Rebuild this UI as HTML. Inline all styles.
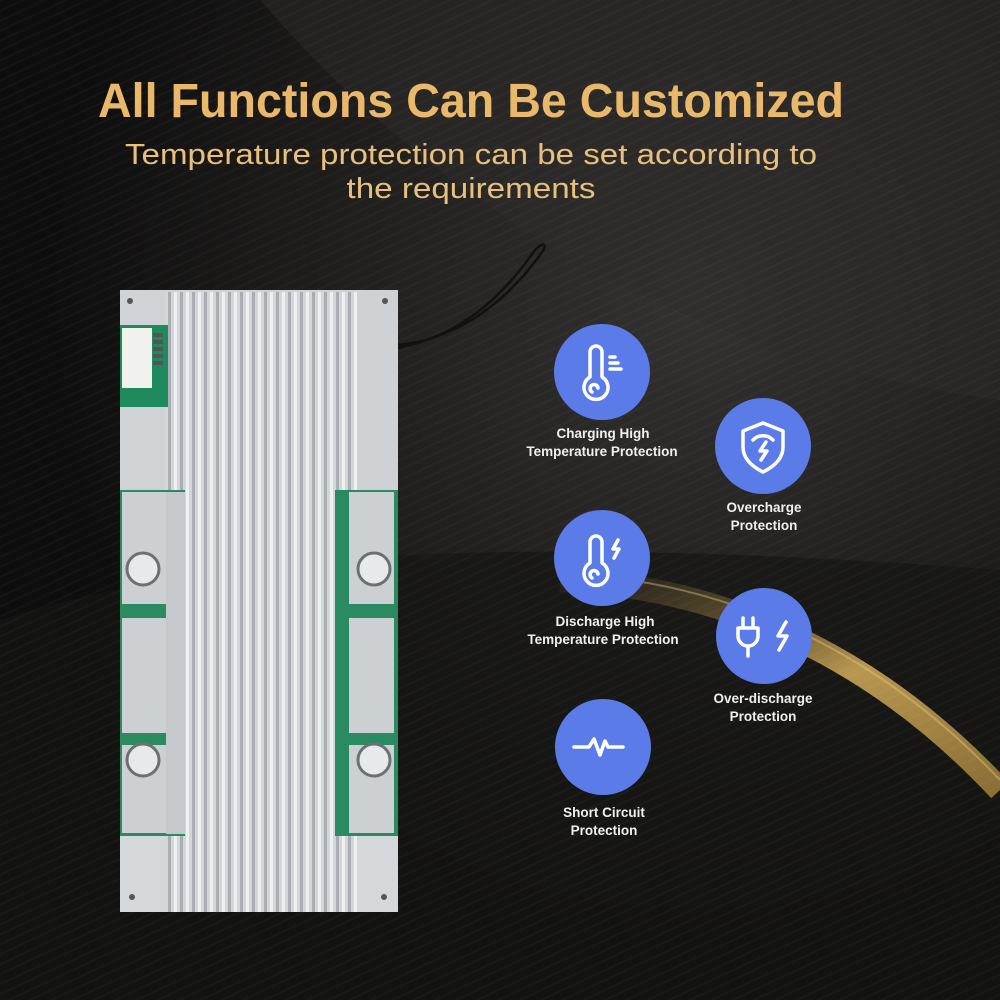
<!DOCTYPE html>
<html><head><meta charset="utf-8"><style>
html,body{margin:0;padding:0;background:#121110;}
svg{display:block}
</style></head><body>
<svg width="1000" height="1000" viewBox="0 0 1000 1000" xmlns="http://www.w3.org/2000/svg">
<defs>
<radialGradient id="g1" cx="0.7" cy="0.3" r="0.65">
<stop offset="0" stop-color="#343230"/><stop offset="0.6" stop-color="#1e1d1c"/><stop offset="1" stop-color="#0f0e0e"/>
</radialGradient>
<linearGradient id="gold" x1="0" y1="0" x2="1" y2="1">
<stop offset="0" stop-color="#3a3020" stop-opacity="0.3"/><stop offset="0.55" stop-color="#b8974f"/><stop offset="1" stop-color="#8a6e34"/>
</linearGradient>
<pattern id="fins" width="12" height="10" patternUnits="userSpaceOnUse">
<rect width="12" height="10" fill="#d4d7da"/><rect x="0" width="3" height="10" fill="#a9adb1"/><rect x="6" width="3" height="10" fill="#eef0f2"/>
</pattern>
<pattern id="lines" width="9" height="9" patternUnits="userSpaceOnUse" patternTransform="rotate(-25)">
<rect width="9" height="2" fill="#ffffff" opacity="0.025"/>
</pattern>
</defs>
<rect width="1000" height="1000" fill="url(#g1)"/>
<path d="M260 0 C450 220 700 360 1000 400 L1000 0 Z" fill="#2e2c2a" opacity="0.5"/>
<path d="M0 620 C250 540 600 540 1000 570 L1000 1000 L0 1000 Z" fill="#161514" opacity="0.7"/>
<path d="M560 580 C700 585 860 640 1000 790" stroke="url(#gold)" stroke-width="24" fill="none"/>
<path d="M560 574 C700 578 860 632 1000 780" stroke="#e8cf8a" stroke-width="2" fill="none" opacity="0.4"/>
<rect width="1000" height="1000" fill="url(#lines)"/>

<text x="471" y="117" text-anchor="middle" font-family="Liberation Sans, sans-serif" font-weight="bold" font-size="48" fill="#e9b86b" textLength="746" lengthAdjust="spacingAndGlyphs">All Functions Can Be Customized</text>
<text x="471" y="164" text-anchor="middle" font-family="Liberation Sans, sans-serif" font-size="29" fill="#e8c07e" textLength="692" lengthAdjust="spacingAndGlyphs">Temperature protection can be set according to</text>
<text x="471" y="198" text-anchor="middle" font-family="Liberation Sans, sans-serif" font-size="29" fill="#e8c07e" textLength="249" lengthAdjust="spacingAndGlyphs">the requirements</text>

<path d="M398 345 C450 340 500 310 540 255 C548 245 545 240 535 250 C500 300 460 335 398 348" stroke="#111" stroke-width="2.5" fill="none"/>

<rect x="120" y="290" width="278" height="622" fill="#d0d3d6"/>
<rect x="165" y="292" width="193" height="618" fill="url(#fins)"/>
<rect x="120" y="292" width="45" height="198" fill="#d0d3d6"/>
<rect x="357" y="292" width="41" height="198" fill="#cfd2d5"/>
<rect x="120" y="325" width="48" height="82" fill="#1f8a5e"/>
<rect x="122" y="328" width="30" height="60" fill="#f1f1ee"/>
<g fill="#555"><rect x="153" y="333" width="10" height="4"/><rect x="153" y="340" width="10" height="4"/><rect x="153" y="347" width="10" height="4"/><rect x="153" y="354" width="10" height="4"/><rect x="153" y="361" width="10" height="4"/></g>
<rect x="120" y="490" width="65" height="346" fill="#2a8a62"/>
<rect x="335" y="490" width="63" height="346" fill="#2a8a62"/>
<rect x="122" y="492" width="44" height="112" fill="#cdd0d3"/>
<rect x="122" y="618" width="44" height="115" fill="#cdd0d3"/>
<rect x="122" y="745" width="44" height="88" fill="#cdd0d3"/>
<rect x="349" y="492" width="45" height="112" fill="#cdd0d3"/>
<rect x="349" y="618" width="45" height="115" fill="#cdd0d3"/>
<rect x="349" y="745" width="45" height="88" fill="#cdd0d3"/>
<rect x="166" y="492" width="19" height="342" fill="#c6c9cc"/>
<rect x="339" y="492" width="10" height="342" fill="#2a8a62"/>
<rect x="185" y="490" width="150" height="346" fill="url(#fins)"/>
<rect x="120" y="836" width="278" height="76" fill="url(#fins)"/>
<rect x="120" y="836" width="45" height="76" fill="#d5d8db"/>
<rect x="357" y="836" width="41" height="76" fill="#d5d8db"/>
<g fill="#e8e9ea" stroke="#6d7073" stroke-width="3">
<circle cx="143" cy="569" r="16"/><circle cx="374" cy="569" r="16"/><circle cx="143" cy="760" r="16"/><circle cx="374" cy="760" r="16"/>
</g>
<g fill="#555"><circle cx="130" cy="301" r="3"/><circle cx="385" cy="301" r="3"/><circle cx="132" cy="897" r="3"/><circle cx="384" cy="897" r="3"/></g>

<g fill="#5b7ce8">
<circle cx="602" cy="372" r="48"/><circle cx="763" cy="446" r="48"/><circle cx="602" cy="558" r="48"/><circle cx="764" cy="636" r="48"/><circle cx="603" cy="747" r="48"/>
</g>
<g stroke="#fff" stroke-width="3.5" fill="none" stroke-linecap="round" stroke-linejoin="round">
<path d="M590 377 V352 a6 6 0 0 1 12 0 V377 a12 12 0 1 1 -12 0 Z"/><path d="M592 392 a4 4 0 1 1 6 -4"/>
<path d="M610 357 h5 M610 363 h8 M610 369 h11"/>
<path d="M590 563 V542 a6 6 0 0 1 12 0 V563 a12 12 0 1 1 -12 0 Z"/><path d="M592 578 a4 4 0 1 1 6 -4"/>
<path d="M618 540 l-5 9 h6 l-5 9"/>
<path d="M763 423 l20 8 v16 c0 12 -10 20 -20 25 c-10 -5 -20 -13 -20 -25 v-16 Z"/>
<path d="M753 440 a14 14 0 0 1 20 0"/><path d="M766 442 l-6 9 h7 l-6 9"/>
<path d="M743 618 v10 M753 618 v10 M738 628 h20 v8 a10 10 0 0 1 -20 0 Z M748 646 v10"/>
<path d="M786 622 l-8 14 h9 l-8 14"/>
<path d="M574 747 h15 l5 -8 l6 16 l5 -14 l3 6 h15"/>
</g>
<g font-family="Liberation Sans, sans-serif" font-weight="bold" font-size="13.5" fill="#f0f0f0" text-anchor="middle">
<text x="603" y="438">Charging High</text><text x="602" y="456">Temperature Protection</text>
<text x="764" y="512">Overcharge</text><text x="764" y="530">Protection</text>
<text x="605" y="626">Discharge High</text><text x="603" y="644">Temperature Protection</text>
<text x="763" y="703">Over-discharge</text><text x="763" y="721">Protection</text>
<text x="604" y="817">Short Circuit</text><text x="604" y="835">Protection</text>
</g>
</svg>
</body></html>
